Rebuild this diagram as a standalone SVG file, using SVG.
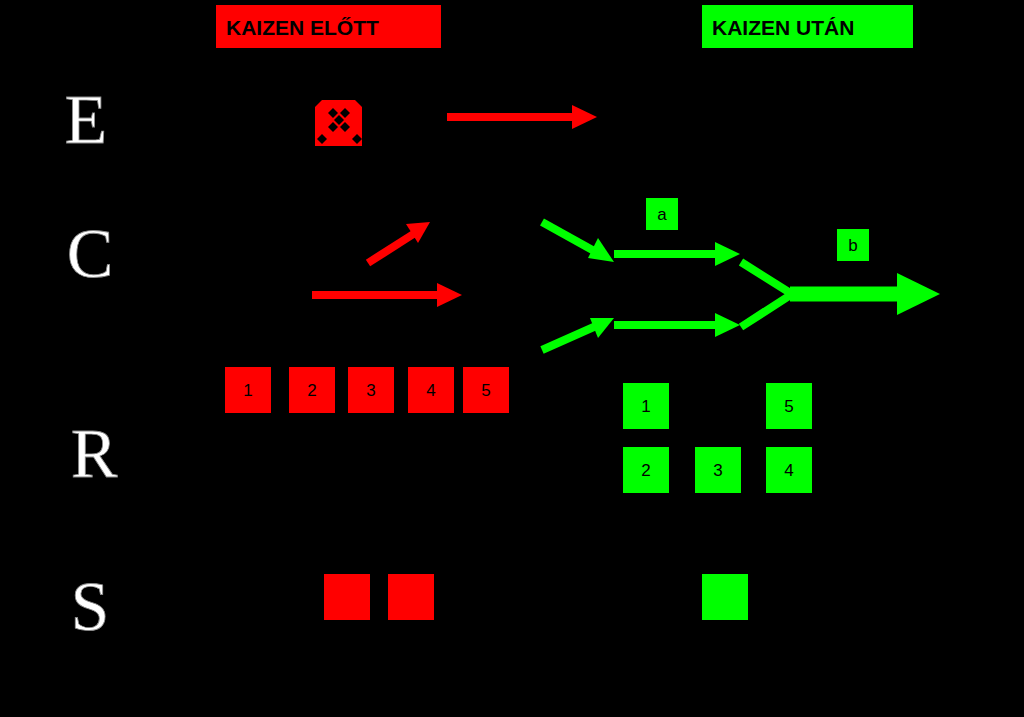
<svg xmlns="http://www.w3.org/2000/svg" width="1024" height="717" viewBox="0 0 1024 717">
<style>
.r{fill:#ff0000}.g{fill:#00ff00}
.n{font-family:"Liberation Sans",Arial,sans-serif;font-size:17px;fill:#000;text-anchor:middle}
.h{font-family:"Liberation Sans",Arial,sans-serif;font-size:21px;font-weight:bold;fill:#000}
.L{font-family:"Liberation Serif","DejaVu Serif",serif;font-size:70px;fill:#fff;text-anchor:middle;stroke:#888;stroke-width:0.8}
.rl{stroke:#ff0000;stroke-width:8;fill:none}.gl{stroke:#00ff00;stroke-width:8;fill:none}
</style>
<rect width="1024" height="717" fill="#000"/>
<g id="headers">
<rect class="r" x="216" y="5" width="225" height="43"/><text class="h" x="226" y="35">KAIZEN ELŐTT</text>
<rect class="g" x="702" y="5" width="211" height="43"/><text class="h" x="712" y="35">KAIZEN UTÁN</text>
</g>
<g id="letters">
<text class="L" x="86" y="143">E</text><text class="L" x="90" y="277">C</text>
<text class="L" x="94" y="477">R</text><text class="L" x="90" y="630">S</text>
</g>
<g id="icon">
<rect class="r" x="315" y="100" width="47" height="46"/>
<g fill="#000">
<polygon points="315,100 322,100 315,107"/><polygon points="362,100 355,100 362,107"/>
<polygon points="333,108 338,113 333,118 328,113"/><polygon points="345,108 350,113 345,118 340,113"/>
<polygon points="339,115 344,120 339,125 334,120"/><polygon points="333,122 338,127 333,132 328,127"/>
<polygon points="345,122 350,127 345,132 340,127"/><polygon points="322,134 327,139 322,144 317,139"/>
<polygon points="357,134 362,139 357,144 352,139"/>
</g>
</g>
<g id="connectors">
<line class="rl" x1="447" y1="117" x2="575" y2="117"/><polygon class="r" points="572,105 597,117 572,129"/>
<line class="rl" x1="368" y1="263" x2="415" y2="233"/><polygon class="r" points="406,224 430,222 418,243"/>
<line class="rl" x1="312" y1="295" x2="440" y2="295"/><polygon class="r" points="437,283 462,295 437,307"/>
<line class="gl" x1="542" y1="222" x2="596" y2="252"/><polygon class="g" points="598,238 614,262 588,258"/>
<line class="gl" x1="542" y1="350" x2="596" y2="326"/><polygon class="g" points="590,318 614,318 598,338"/>
<line class="gl" x1="614" y1="254" x2="718" y2="254"/><polygon class="g" points="715,242 740,254 715,266"/>
<line class="gl" x1="614" y1="325" x2="718" y2="325"/><polygon class="g" points="715,313 740,325 715,337"/>
<polyline class="gl" points="741,262 792,294 741,327"/>
<line stroke="#00ff00" stroke-width="15" x1="790" y1="294" x2="900" y2="294"/><polygon class="g" points="897,273 940,294 897,315"/>
</g>
<g id="labels">
<rect class="g" x="646" y="198" width="32" height="32"/><text class="n" x="662" y="220">a</text>
<rect class="g" x="837" y="229" width="32" height="32"/><text class="n" x="853" y="251">b</text>
</g>
<g id="redboxes">
<rect class="r" x="225" y="367" width="46" height="46"/><text class="n" x="248" y="396">1</text>
<rect class="r" x="289" y="367" width="46" height="46"/><text class="n" x="312" y="396">2</text>
<rect class="r" x="348" y="367" width="46" height="46"/><text class="n" x="371" y="396">3</text>
<rect class="r" x="408" y="367" width="46" height="46"/><text class="n" x="431" y="396">4</text>
<rect class="r" x="463" y="367" width="46" height="46"/><text class="n" x="486" y="396">5</text>
</g>
<g id="greenboxes">
<rect class="g" x="623" y="383" width="46" height="46"/><text class="n" x="646" y="412">1</text>
<rect class="g" x="766" y="383" width="46" height="46"/><text class="n" x="789" y="412">5</text>
<rect class="g" x="623" y="447" width="46" height="46"/><text class="n" x="646" y="476">2</text>
<rect class="g" x="695" y="447" width="46" height="46"/><text class="n" x="718" y="476">3</text>
<rect class="g" x="766" y="447" width="46" height="46"/><text class="n" x="789" y="476">4</text>
</g>
<g id="sboxes">
<rect class="r" x="324" y="574" width="46" height="46"/><rect class="r" x="388" y="574" width="46" height="46"/>
<rect class="g" x="702" y="574" width="46" height="46"/>
</g>
</svg>
